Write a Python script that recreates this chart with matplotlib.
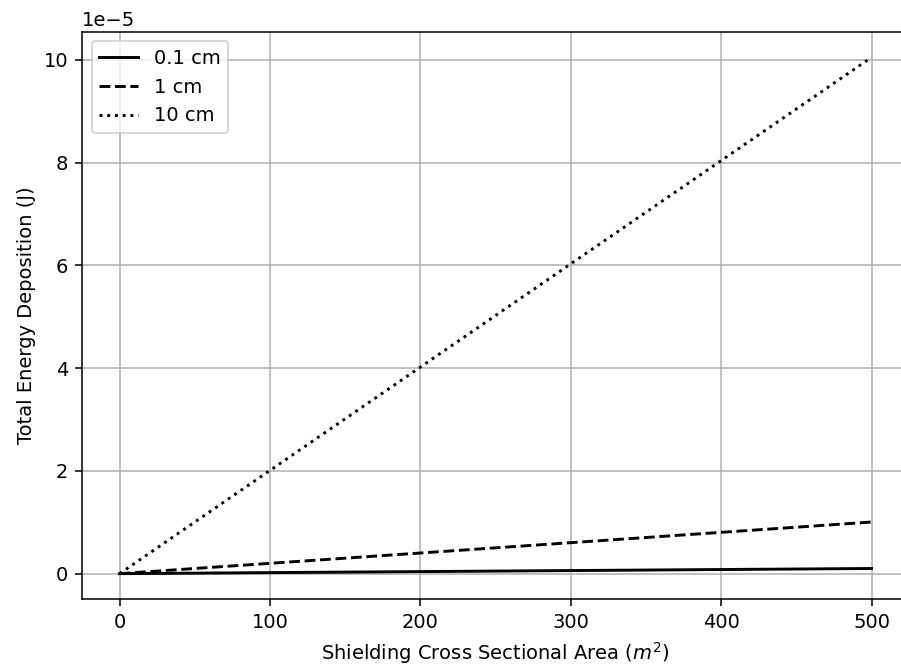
import numpy as np
from matplotlib import pyplot as plt

area = [0, 100, 200, 300, 400, 500]
e_01cm = [0, 0.0201e-5, 0.0402e-5, 0.0603e-5, 0.0804e-5, 0.1005e-5]
e_1cm = [0, 0.201e-5, 0.402e-5, 0.603e-5, 0.804e-5, 1.005e-5]
e_10cm = [0, 2.01e-5, 4.02e-5, 6.03e-5, 8.04e-5, 10.05e-5]

fig = plt.figure(figsize=(901/140, 671/140), dpi=140)
ax = fig.add_axes([0.091, 0.1066, 0.918, 0.8464])
ax.plot(area, e_01cm, 'k-', label='0.1 cm')
ax.plot(area, e_1cm, 'k--', label='1 cm')
ax.plot(area, e_10cm, 'k:', label='10 cm')
ax.set_xlabel('Shielding Cross Sectional Area ($m^2$)')
ax.set_ylabel('Total Energy Deposition (J)')
ax.ticklabel_format(axis='y', style='sci', scilimits=(-5, -5))
ax.grid(True)
ax.legend(loc='upper left')

fig.savefig('out.png', dpi=140)
